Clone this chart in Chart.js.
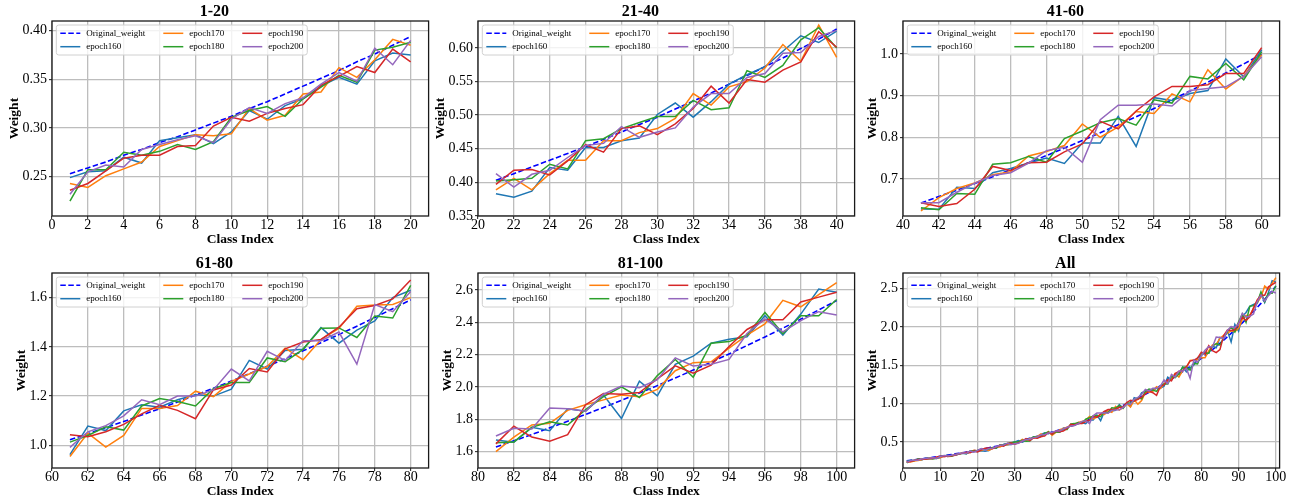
<!DOCTYPE html>
<html>
<head>
<meta charset="utf-8">
<script src="https://cdn.jsdelivr.net/npm/chart.js@4.4.1/dist/chart.umd.min.js"></script>
<style>
  html, body { margin: 0; padding: 0; background: #ffffff; }
  #wrap { position: relative; width: 1294px; height: 503px; overflow: hidden; background: #ffffff; }
  #wrap canvas { position: absolute; }
</style>
</head>
<body>
<div id="wrap"></div>
<script>
// ---------------- data ----------------
const classIndex = Array.from({ length: 100 }, (_, i) => i + 1);

const seriesLabels = ['Original_weight', 'epoch160', 'epoch170', 'epoch180', 'epoch190', 'epoch200'];

const originalWeight = [
  0.253,0.259,0.265,0.272,0.278,0.285,0.291,0.298,0.305,0.312,
  0.320,0.327,0.335,0.343,0.351,0.359,0.368,0.376,0.385,0.394,
  0.403,0.413,0.423,0.433,0.443,0.453,0.464,0.475,0.486,0.497,
  0.509,0.521,0.533,0.546,0.559,0.572,0.585,0.599,0.613,0.628,
  0.642,0.658,0.673,0.689,0.705,0.722,0.739,0.756,0.774,0.792,
  0.811,0.830,0.849,0.869,0.890,0.911,0.932,0.954,0.976,0.999,
  1.023,1.047,1.072,1.097,1.123,1.149,1.176,1.204,1.232,1.261,
  1.291,1.321,1.352,1.384,1.417,1.450,1.484,1.519,1.555,1.591,
  1.629,1.667,1.706,1.747,1.788,1.830,1.873,1.917,1.962,2.008,
  2.055,2.104,2.153,2.204,2.256,2.309,2.363,2.419,2.476,2.534];

const epoch160 = [
  0.249,0.255,0.256,0.270,0.264,0.287,0.290,0.293,0.284,0.296,
  0.318,0.309,0.323,0.330,0.343,0.352,0.345,0.369,0.377,0.375,
  0.383,0.378,0.387,0.422,0.418,0.452,0.452,0.462,0.466,0.501,
  0.518,0.497,0.520,0.546,0.560,0.572,0.595,0.618,0.608,0.625,
  0.628,0.627,0.680,0.677,0.715,0.725,0.738,0.750,0.737,0.786,
  0.786,0.850,0.778,0.895,0.888,0.905,0.912,0.988,0.945,1.010,
  0.962,1.078,1.060,1.140,1.165,1.155,1.185,1.205,1.200,1.228,
  1.345,1.310,1.385,1.390,1.478,1.415,1.468,1.505,1.600,1.630,
  1.672,1.658,1.750,1.730,1.865,1.850,1.950,1.805,2.035,1.945,
  2.140,2.190,2.270,2.295,2.310,2.440,2.320,2.450,2.605,2.585];

const epoch170 = [
  0.243,0.239,0.251,0.258,0.265,0.281,0.287,0.293,0.292,0.294,
  0.320,0.308,0.313,0.335,0.337,0.362,0.352,0.370,0.391,0.385,
  0.389,0.406,0.389,0.413,0.433,0.433,0.462,0.462,0.474,0.480,
  0.495,0.532,0.515,0.542,0.550,0.570,0.605,0.580,0.634,0.586,
  0.623,0.655,0.677,0.690,0.710,0.717,0.755,0.766,0.780,0.832,
  0.800,0.825,0.862,0.857,0.904,0.885,0.962,0.916,0.947,0.998,
  0.955,1.050,0.993,1.040,1.150,1.150,1.162,1.220,1.198,1.260,
  1.290,1.320,1.395,1.348,1.430,1.475,1.565,1.570,1.572,1.600,
  1.600,1.690,1.765,1.775,1.855,1.890,1.920,1.950,1.940,1.985,
  2.100,2.150,2.155,2.240,2.320,2.390,2.535,2.495,2.570,2.645];

const epoch180 = [
  0.225,0.257,0.257,0.275,0.272,0.276,0.283,0.278,0.286,0.311,
  0.318,0.322,0.312,0.330,0.342,0.354,0.347,0.380,0.383,0.388,
  0.402,0.404,0.406,0.427,0.420,0.462,0.465,0.480,0.489,0.498,
  0.498,0.522,0.508,0.511,0.566,0.556,0.574,0.612,0.630,0.600,
  0.631,0.626,0.665,0.663,0.735,0.739,0.754,0.740,0.797,0.815,
  0.835,0.845,0.829,0.890,0.882,0.946,0.940,0.977,0.938,1.005,
  1.013,1.040,1.075,1.062,1.160,1.190,1.178,1.160,1.230,1.255,
  1.255,1.355,1.340,1.390,1.476,1.477,1.438,1.525,1.517,1.650,
  1.655,1.660,1.750,1.785,1.765,1.860,1.940,2.000,1.935,2.070,
  2.170,2.060,2.270,2.280,2.320,2.460,2.330,2.440,2.440,2.540];

const epoch190 = [
  0.236,0.243,0.256,0.269,0.272,0.272,0.281,0.282,0.302,0.311,
  0.307,0.315,0.320,0.324,0.344,0.353,0.363,0.357,0.381,0.368,
  0.397,0.418,0.419,0.411,0.432,0.456,0.445,0.480,0.484,0.471,
  0.487,0.510,0.543,0.518,0.553,0.549,0.567,0.579,0.624,0.601,
  0.643,0.634,0.641,0.675,0.730,0.720,0.739,0.740,0.765,0.784,
  0.838,0.820,0.863,0.897,0.922,0.922,0.926,0.953,0.953,1.015,
  1.043,1.035,1.055,1.085,1.128,1.163,1.142,1.108,1.225,1.245,
  1.312,1.298,1.392,1.420,1.430,1.480,1.555,1.568,1.595,1.672,
  1.648,1.757,1.690,1.665,1.705,1.890,1.960,1.955,1.965,2.050,
  2.130,2.085,2.135,2.250,2.355,2.415,2.415,2.525,2.555,2.585];

const epoch200 = [
  0.232,0.255,0.262,0.260,0.278,0.283,0.288,0.292,0.285,0.309,
  0.321,0.315,0.325,0.331,0.345,0.357,0.348,0.382,0.365,0.390,
  0.413,0.393,0.412,0.418,0.437,0.455,0.458,0.483,0.467,0.475,
  0.481,0.512,0.532,0.532,0.556,0.562,0.592,0.593,0.617,0.626,
  0.643,0.643,0.668,0.690,0.708,0.715,0.738,0.768,0.776,0.740,
  0.842,0.877,0.877,0.880,0.875,0.912,0.917,0.921,0.946,0.993,
  0.992,1.055,1.080,1.120,1.185,1.165,1.200,1.200,1.225,1.310,
  1.262,1.382,1.345,1.425,1.425,1.460,1.330,1.572,1.543,1.625,
  1.697,1.745,1.740,1.870,1.865,1.850,1.955,2.005,1.995,2.045,
  2.180,2.130,2.140,2.170,2.330,2.420,2.340,2.410,2.465,2.445];

const panelTitles = ['1-20', '21-40', '41-60', '61-80', '81-100', 'All'];
const panelRanges = [[1, 20], [21, 40], [41, 60], [61, 80], [81, 100], [1, 100]];

const xTickValues = [
  [0, 2, 4, 6, 8, 10, 12, 14, 16, 18, 20],
  [20, 22, 24, 26, 28, 30, 32, 34, 36, 38, 40],
  [40, 42, 44, 46, 48, 50, 52, 54, 56, 58, 60],
  [60, 62, 64, 66, 68, 70, 72, 74, 76, 78, 80],
  [80, 82, 84, 86, 88, 90, 92, 94, 96, 98, 100],
  [0, 10, 20, 30, 40, 50, 60, 70, 80, 90, 100]];

const yTickValues = [
  [0.25, 0.30, 0.35, 0.40],
  [0.35, 0.40, 0.45, 0.50, 0.55, 0.60],
  [0.7, 0.8, 0.9, 1.0],
  [1.0, 1.2, 1.4, 1.6],
  [1.6, 1.8, 2.0, 2.2, 2.4, 2.6],
  [0.5, 1.0, 1.5, 2.0, 2.5]];

const yTickLabels = [
  ['0.25', '0.30', '0.35', '0.40'],
  ['0.35', '0.40', '0.45', '0.50', '0.55', '0.60'],
  ['0.7', '0.8', '0.9', '1.0'],
  ['1.0', '1.2', '1.4', '1.6'],
  ['1.6', '1.8', '2.0', '2.2', '2.4', '2.6'],
  ['0.5', '1.0', '1.5', '2.0', '2.5']];

const xLimits = [[0, 21], [20, 41], [40, 61], [60, 81], [80, 101], [0, 101]];
const yLimits = [[0.2096, 0.4099], [0.35, 0.640], [0.611, 1.079], [0.908, 1.700], [1.499, 2.704], [0.159, 2.706]];

// ---------------- styles / layout ----------------
const seriesValues = [originalWeight, epoch160, epoch170, epoch180, epoch190, epoch200];
const seriesColors = ['#0000ff', '#1f77b4', '#ff7f0e', '#2ca02c', '#d62728', '#9467bd'];
const seriesDash = [[5.5, 2.5], [], [], [], [], []];

const FONT = '"Liberation Serif", "Times New Roman", Times, serif';
Chart.defaults.font.family = FONT;
Chart.defaults.color = '#000000';

const canvasLeft = [0, 426, 851, 0, 426, 851];
const canvasTop = [0, 0, 0, 252, 252, 252];
const CANVAS_W = 443, CANVAS_H = 250;
const Y_AXIS_W = 52, X_AXIS_H = 34, PLOT_W = 376.6;
const yTitlePad = [6.4, 6.4, 13.9, 13.9, 13.9, 13.9];

const legendPlugin = {
  id: 'mplLegend',
  afterDatasetsDraw(chart) {
    const ctx = chart.ctx, area = chart.chartArea;
    const ds = chart.data.datasets;
    ctx.save();
    ctx.font = '9px ' + FONT;
    const rows = 2, cols = 3;
    const pad = 4, handleLen = 20, handleGap = 6, colSpace = 18, rowH = 13.4;
    const colW = [];
    for (let c = 0; c < cols; c++) {
      let w = 0;
      for (let r = 0; r < rows; r++) {
        const d = ds[c * rows + r];
        if (d) w = Math.max(w, ctx.measureText(d.label).width);
      }
      colW.push(handleLen + handleGap + w);
    }
    const boxW = pad * 2 + colW.reduce((a, b) => a + b, 0) + colSpace * (cols - 1);
    const boxH = 30;
    const x0 = area.left + 4.3, y0 = area.top + 4;
    ctx.beginPath();
    ctx.roundRect(x0, y0, boxW, boxH, 2.5);
    ctx.fillStyle = 'rgba(255,255,255,0.8)';
    ctx.fill();
    ctx.strokeStyle = '#d0d0d0';
    ctx.lineWidth = 1;
    ctx.stroke();
    let cx = x0 + pad;
    for (let c = 0; c < cols; c++) {
      for (let r = 0; r < rows; r++) {
        const d = ds[c * rows + r];
        if (!d) continue;
        const y = y0 + 8.3 + r * rowH;
        ctx.beginPath();
        ctx.setLineDash(d.borderDash || []);
        ctx.strokeStyle = d.borderColor;
        ctx.lineWidth = d.borderWidth;
        ctx.moveTo(cx, y);
        ctx.lineTo(cx + handleLen, y);
        ctx.stroke();
        ctx.setLineDash([]);
        ctx.fillStyle = '#000000';
        ctx.textBaseline = 'middle';
        ctx.textAlign = 'left';
        ctx.fillText(d.label, cx + handleLen + handleGap, y);
      }
      cx += colW[c] + colSpace;
    }
    ctx.restore();
  }
};

const framePlugin = {
  id: 'frame',
  afterDraw(chart) {
    const ctx = chart.ctx, a = chart.chartArea;
    ctx.save();
    ctx.strokeStyle = '#1a1a1a';
    ctx.lineWidth = 1.3;
    ctx.strokeRect(a.left, a.top, a.right - a.left, a.bottom - a.top);
    ctx.restore();
  }
};

const wrap = document.getElementById('wrap');

panelTitles.forEach((title, p) => {
  const canvas = document.createElement('canvas');
  canvas.width = CANVAS_W;
  canvas.height = CANVAS_H;
  canvas.style.left = canvasLeft[p] + 'px';
  canvas.style.top = canvasTop[p] + 'px';
  canvas.style.width = CANVAS_W + 'px';
  canvas.style.height = CANVAS_H + 'px';
  wrap.appendChild(canvas);

  const [from, to] = panelRanges[p];
  const idx = classIndex.filter(c => c >= from && c <= to).map(c => c - 1);

  const datasets = seriesLabels.map((label, s) => ({
    label,
    data: idx.map(i => ({ x: classIndex[i], y: seriesValues[s][i] })),
    borderColor: seriesColors[s],
    backgroundColor: seriesColors[s],
    borderWidth: s === 0 ? 1.6 : 1.5,
    borderDash: seriesDash[s],
    pointRadius: 0,
    fill: false,
    tension: 0,
    order: seriesLabels.length - s
  }));

  const xt = xTickValues[p], yt = yTickValues[p], yl = yTickLabels[p];
  const gridOpts = { color: '#bdbdbd', lineWidth: 1.3, drawTicks: true, tickLength: 3, tickColor: '#1a1a1a', tickWidth: 1 };

  new Chart(canvas, {
    type: 'line',
    data: { datasets },
    options: {
      responsive: false,
      animation: false,
      devicePixelRatio: 1,
      events: [],
      layout: { padding: { left: 0, top: 0, bottom: 0, right: CANVAS_W - Y_AXIS_W - PLOT_W } },
      plugins: {
        legend: { display: false },
        tooltip: { enabled: false },
        title: {
          display: true,
          text: title,
          color: '#000000',
          font: { family: FONT, size: 16, weight: 'bold', lineHeight: 1.0 },
          padding: { top: 4, bottom: 1 }
        }
      },
      scales: {
        x: {
          type: 'linear',
          min: xLimits[p][0],
          max: xLimits[p][1],
          afterBuildTicks: (axis) => { axis.ticks = xt.map(v => ({ value: v })); },
          afterFit: (axis) => { axis.height = X_AXIS_H; },
          ticks: {
            autoSkip: false, maxRotation: 0, padding: -2, color: '#000000',
            font: { family: FONT, size: 14 },
            callback: (v) => String(v)
          },
          grid: gridOpts,
          border: { display: false },
          title: {
            display: true, text: 'Class Index', color: '#000000',
            font: { family: FONT, size: 13.5, weight: 'bold' },
            padding: { top: 0, bottom: 2 }
          }
        },
        y: {
          type: 'linear',
          min: yLimits[p][0],
          max: yLimits[p][1],
          afterBuildTicks: (axis) => { axis.ticks = yt.map(v => ({ value: v })); },
          afterFit: (axis) => { axis.width = Y_AXIS_W; },
          ticks: {
            autoSkip: false, padding: 2, color: '#000000',
            font: { family: FONT, size: 14 },
            callback: (v, i) => yl[i]
          },
          grid: gridOpts,
          border: { display: false },
          title: {
            display: true, text: 'Weight', color: '#000000',
            font: { family: FONT, size: 13.5, weight: 'bold' },
            padding: { top: yTitlePad[p], bottom: 0 }
          }
        }
      }
    },
    plugins: [legendPlugin, framePlugin]
  });
});
</script>
</body>
</html>
